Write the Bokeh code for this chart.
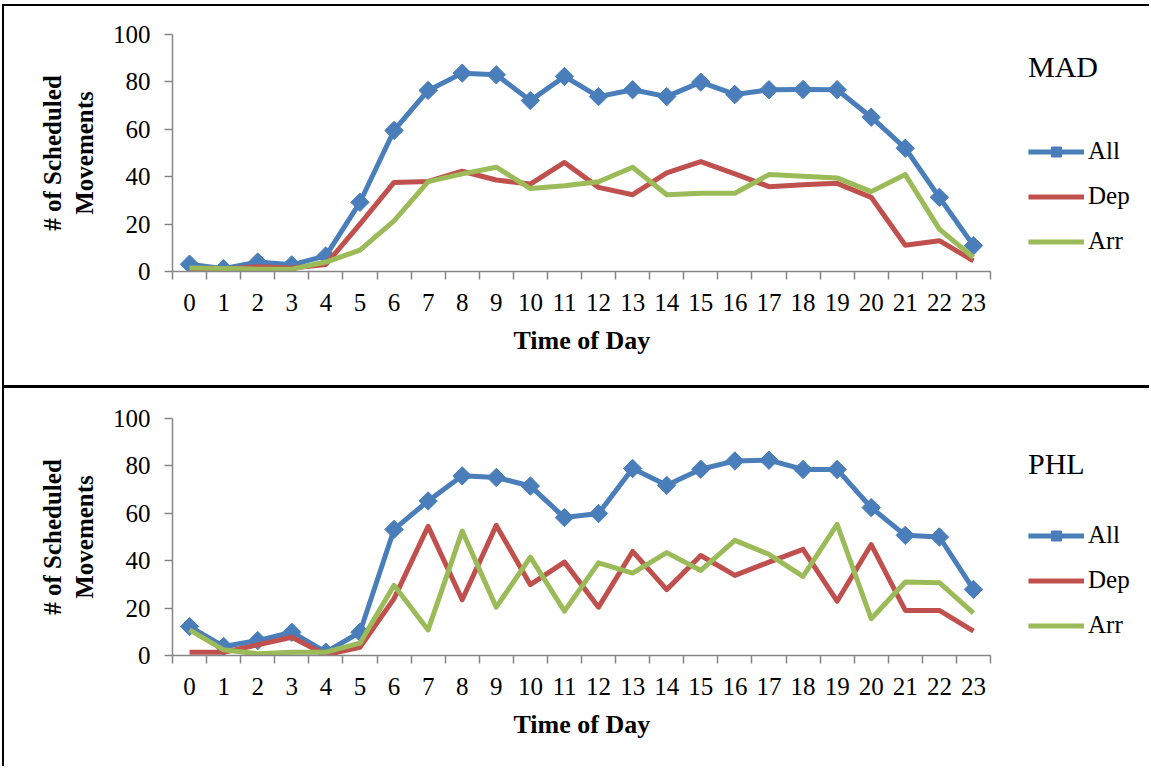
import numpy as np
from bokeh.plotting import figure
from bokeh.models import FixedTicker, Legend, LegendItem, Range1d, Title
from bokeh.layouts import column
from bokeh.embed import file_html
from bokeh.resources import INLINE

hours = list(range(24))
hour_labels = [str(h) for h in hours]

mad_all = [3.1, 1.2, 4.0, 2.8, 6.6, 29.2, 59.5, 76.4, 83.7, 83.0, 72.1, 82.3,
           73.8, 76.7, 73.8, 79.9, 74.7, 76.7, 76.8, 76.7, 65.1, 52.0, 31.3, 10.9]
mad_dep = [1.0, 1.0, 2.0, 1.5, 3.0, 20.0, 37.6, 38.0, 42.3, 38.6, 36.9, 46.0,
           35.5, 32.4, 41.6, 46.4, 41.2, 35.8, 36.6, 37.2, 31.3, 11.1, 13.0, 4.5]
mad_arr = [1.5, 1.3, 1.0, 1.0, 4.0, 9.0, 21.4, 37.9, 41.2, 44.0, 35.0, 36.2,
           37.9, 44.0, 32.4, 33.0, 33.0, 40.9, 40.2, 39.5, 33.7, 40.9, 17.9, 5.9]

phl_all = [12.2, 3.8, 6.3, 9.8, 1.4, 9.8, 53.2, 65.2, 75.8, 75.1, 71.5, 58.2,
           59.9, 78.9, 71.8, 78.6, 82.1, 82.4, 78.5, 78.5, 62.4, 50.7, 50.0, 27.9]
phl_dep = [1.4, 1.4, 4.5, 7.7, 0.3, 3.5, 24.0, 54.5, 23.5, 54.9, 29.9, 39.4,
           20.4, 43.9, 27.8, 42.2, 33.8, 39.4, 44.8, 22.9, 46.8, 19.0, 19.0, 10.3]
phl_arr = [10.8, 2.4, 0.7, 1.4, 1.4, 5.2, 29.6, 10.8, 52.5, 20.4, 41.5, 18.7,
           39.1, 34.8, 43.4, 35.9, 48.6, 42.7, 33.4, 55.3, 15.5, 31.0, 30.7, 17.9]

y_ticks = [0, 20, 40, 60, 80, 100]

C_ALL = "#4A7EBB"
C_DEP = "#C0504D"
C_ARR = "#9BBB59"
AXIS_C = "#868686"
FONT = "Liberation Serif"

FIG_W = 1145
BORDER_L = 168
FRAME_W = 968            # frame extends under the legend area
AXIS_PX = 818            # pixel length of the 24 category slots
X_END = -0.5 + FRAME_W / (AXIS_PX / 24.0)


def make_panel(title, all_v, dep_v, arr_v, height, top, bottom, t_standoff):
    p = figure(width=FIG_W, height=height, output_backend="svg",
               toolbar_location=None, x_range=Range1d(-0.5, X_END),
               y_range=Range1d(0, 100), min_border_left=BORDER_L,
               min_border_right=FIG_W - BORDER_L - FRAME_W,
               min_border_top=top, min_border_bottom=bottom)
    p.outline_line_color = None
    p.grid.visible = False
    p.background_fill_color = "white"
    p.border_fill_color = "white"

    xa = p.xaxis[0]
    xa.bounds = (-0.5, 23.5)
    xa.ticker = FixedTicker(ticks=hours,
                            minor_ticks=[h - 0.5 for h in hours] + [23.5])
    xa.major_label_overrides = {h: lbl for h, lbl in zip(hours, hour_labels)}
    xa.major_tick_in = 0
    xa.major_tick_out = 0
    xa.minor_tick_in = 0
    xa.minor_tick_out = 8
    xa.minor_tick_line_color = AXIS_C
    xa.minor_tick_line_width = 1.5
    xa.axis_line_color = AXIS_C
    xa.axis_line_width = 1.5
    xa.major_label_text_font = FONT
    xa.major_label_text_font_size = "25px"
    xa.major_label_text_color = "black"
    xa.major_label_standoff = 14

    xlab = Title(text="Time of Day", align="left", offset=341, standoff=21,
                 text_font=FONT, text_font_size="26px",
                 text_font_style="bold", text_color="black")
    p.add_layout(xlab, "below")

    ya = p.yaxis[0]
    ya.ticker = FixedTicker(ticks=y_ticks, minor_ticks=[])
    ya.major_tick_in = 0
    ya.major_tick_out = 8
    ya.major_tick_line_color = AXIS_C
    ya.major_tick_line_width = 1.5
    ya.axis_line_color = AXIS_C
    ya.axis_line_width = 1.5
    ya.major_label_text_font = FONT
    ya.major_label_text_font_size = "25px"
    ya.major_label_text_color = "black"
    ya.major_label_standoff = 14
    ya.axis_label = "# of Scheduled\nMovements"
    ya.axis_label_text_font = FONT
    ya.axis_label_text_font_size = "25px"
    ya.axis_label_text_font_style = "bold"
    ya.axis_label_text_color = "black"
    ya.axis_label_standoff = 12

    r_all = p.line(hours, all_v, line_color=C_ALL, line_width=5,
                   line_join="round")
    r_allm = p.scatter(hours, all_v, marker="square", angle=np.pi / 4,
                       size=13, fill_color=C_ALL, line_color=C_ALL)
    r_dep = p.line(hours, dep_v, line_color=C_DEP, line_width=5,
                   line_join="round")
    r_arr = p.line(hours, arr_v, line_color=C_ARR, line_width=5,
                   line_join="round")

    legend = Legend(items=[LegendItem(label="All", renderers=[r_all, r_allm]),
                           LegendItem(label="Dep", renderers=[r_dep]),
                           LegendItem(label="Arr", renderers=[r_arr])],
                    location=(856, 16), orientation="vertical")
    legend.title = title
    legend.title_text_font = FONT
    legend.title_text_font_size = "30px"
    legend.title_text_font_style = "normal"
    legend.title_text_color = "black"
    legend.title_standoff = t_standoff
    legend.glyph_width = 56
    legend.glyph_height = 25
    legend.label_height = 25
    legend.spacing = 17
    legend.padding = 0
    legend.margin = 0
    legend.label_standoff = 4
    legend.label_text_font = FONT
    legend.label_text_font_size = "25px"
    legend.label_text_color = "black"
    legend.border_line_color = None
    legend.background_fill_alpha = 0
    p.add_layout(legend)
    return p


p1 = make_panel("MAD", mad_all, mad_dep, mad_arr, 382, 28, 117, 53)
p1.styles = {"border-bottom": "3px solid black"}
p2 = make_panel("PHL", phl_all, phl_dep, phl_arr, 378, 30, 111, 40)

page = column(p1, p2, styles={"margin-left": "2px", "margin-top": "4px",
                              "border-left": "2px solid black",
                              "border-top": "2px solid black"})
open("out.html", "w").write(file_html(page, INLINE))
